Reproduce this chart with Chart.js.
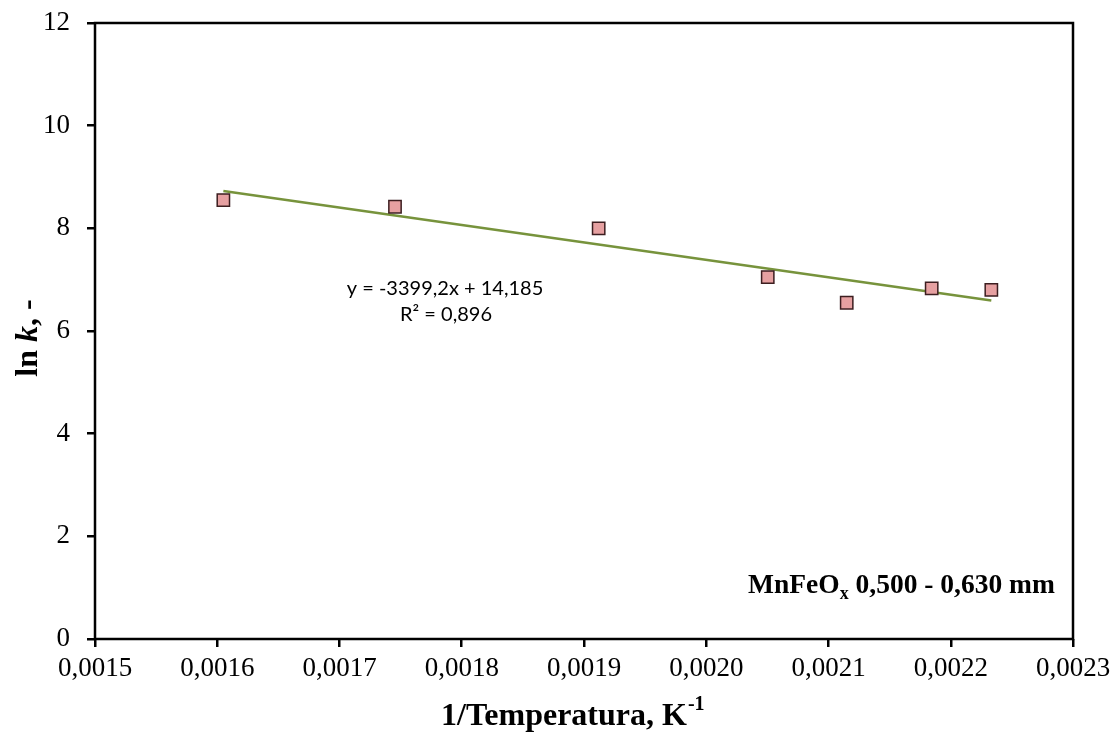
<!DOCTYPE html>
<html>
<head>
<meta charset="utf-8">
<script src="https://cdn.jsdelivr.net/npm/chart.js@4/dist/chart.umd.min.js"></script>
<style>
  html, body { margin: 0; padding: 0; background: #fff; }
  #chart { display: block; }
</style>
</head>
<body>
<canvas id="chart" width="1116" height="736"></canvas>
<script>
// measured points: 1/T (K^-1) vs ln k
const invTemp = [0.001605, 0.0017454, 0.001912, 0.0020503, 0.0021149, 0.0021844, 0.0022332];
const lnK = [8.55, 8.42, 8.00, 7.05, 6.55, 6.83, 6.80];

// linear trend as printed on the chart
const trendSlope = -3399.2;
const trendIntercept = 14.185;
const equationLines = ['y = -3399,2x + 14,185', 'R\u00B2 = 0,896'];

const xTicks = [0.0015, 0.0016, 0.0017, 0.0018, 0.0019, 0.0020, 0.0021, 0.0022, 0.0023];
const yTicks = [0, 2, 4, 6, 8, 10, 12];

const serif = '"Liberation Serif", "Times New Roman", serif';

const points = invTemp.map((x, i) => ({ x: x, y: lnK[i] }));
const xFirst = invTemp[0], xLast = invTemp[invTemp.length - 1];
const trend = [
  { x: xFirst, y: trendSlope * xFirst + trendIntercept },
  { x: xLast, y: trendSlope * xLast + trendIntercept }
];

// frame, axis titles, equation and sample label
const decorations = {
  id: 'decorations',
  afterDraw(chart) {
    const { ctx, chartArea: a } = chart;
    ctx.save();

    // box round the plot
    ctx.strokeStyle = '#000';
    ctx.lineWidth = 2.5;
    ctx.strokeRect(a.left, a.top, a.right - a.left, a.bottom - a.top);

    ctx.fillStyle = '#000';
    ctx.textBaseline = 'alphabetic';

    // x title: 1/Temperatura, K^-1
    ctx.font = 'bold 32px ' + serif;
    const xMain = '1/Temperatura, K';
    ctx.textAlign = 'left';
    const xStart = 441;
    ctx.fillText(xMain, xStart, 725);
    const wMain = ctx.measureText(xMain).width;
    ctx.font = 'bold 20px ' + serif;
    ctx.fillText('-1', xStart + wMain + 1, 710);

    // y title: ln k, -  (k in italics)
    ctx.save();
    ctx.translate(37, 338);
    ctx.rotate(-Math.PI / 2);
    const p1 = 'ln ', p3 = ', -';
    ctx.font = 'bold 32px ' + serif;
    const w1 = ctx.measureText(p1).width;
    ctx.font = 'italic bold 32px ' + serif;
    const w2 = ctx.measureText('k').width;
    ctx.font = 'bold 32px ' + serif;
    const w3 = ctx.measureText(p3).width;
    let cx = -(w1 + w2 + w3) / 2;
    ctx.textAlign = 'left';
    ctx.fillText(p1, cx, 0);
    cx += w1;
    ctx.font = 'italic bold 32px ' + serif;
    ctx.fillText('k', cx, 0);
    cx += w2;
    ctx.font = 'bold 32px ' + serif;
    ctx.fillText(p3, cx, 0);
    ctx.restore();

    // trendline equation
    ctx.font = '20px Lato, "Open Sans", sans-serif';
    ctx.textAlign = 'center';
    ctx.fillText(equationLines[0], 445, 295);
    ctx.fillText(equationLines[1], 446, 321);

    // sample label: MnFeOx 0,500 - 0,630 mm
    ctx.textAlign = 'left';
    let lx = 748;
    ctx.font = 'bold 27.5px ' + serif;
    ctx.fillText('MnFeO', lx, 593);
    lx += ctx.measureText('MnFeO').width;
    ctx.font = 'bold 18px ' + serif;
    ctx.fillText('x', lx, 599);
    lx += ctx.measureText('x').width;
    ctx.font = 'bold 27.5px ' + serif;
    ctx.fillText(' 0,500 - 0,630 mm', lx, 593);

    ctx.restore();
  }
};

// drop the label overflow padding so the layout padding alone sets the plot box
function noScalePadding(s) {
  s.paddingTop = 0;
  s.paddingBottom = 0;
  s.paddingLeft = 0;
  s.paddingRight = 0;
}

new Chart(document.getElementById('chart'), {
  type: 'scatter',
  data: {
    datasets: [
      {
        label: 'ln k',
        data: points,
        pointStyle: 'rect',
        pointRadius: 8.7,
        pointHoverRadius: 8.7,
        backgroundColor: '#E6A0A1',
        borderColor: '#3C1E20',
        borderWidth: 1.5,
        order: 1
      },
      {
        label: 'Trend',
        type: 'line',
        data: trend,
        borderColor: '#77933C',
        borderWidth: 2.5,
        pointRadius: 0,
        fill: false,
        order: 2
      }
    ]
  },
  options: {
    responsive: false,
    animation: false,
    layout: { padding: { top: 23, right: 43, left: 0, bottom: 0 } },
    plugins: {
      legend: { display: false },
      tooltip: { enabled: false }
    },
    scales: {
      x: {
        type: 'linear',
        min: 0.0015,
        max: 0.0023,
        afterBuildTicks: s => { s.ticks = xTicks.map(v => ({ value: v })); },
        afterFit: s => { s.height = 97; noScalePadding(s); },
        border: { display: false },
        grid: { drawOnChartArea: false, drawTicks: true, tickLength: 8, color: '#000', lineWidth: 2.5 },
        ticks: {
          color: '#000',
          padding: 6,
          maxRotation: 0,
          font: { family: serif, size: 27 },
          callback: v => v.toFixed(4).replace('.', ',')
        }
      },
      y: {
        min: 0,
        max: 12,
        afterBuildTicks: s => { s.ticks = yTicks.map(v => ({ value: v })); },
        afterFit: s => { s.width = 95; noScalePadding(s); },
        border: { display: false },
        grid: { drawOnChartArea: false, drawTicks: true, tickLength: 8, color: '#000', lineWidth: 2.5 },
        ticks: {
          color: '#000',
          padding: 17,
          font: { family: serif, size: 27 },
          callback: v => String(v)
        }
      }
    }
  },
  plugins: [decorations]
});
</script>
</body>
</html>
